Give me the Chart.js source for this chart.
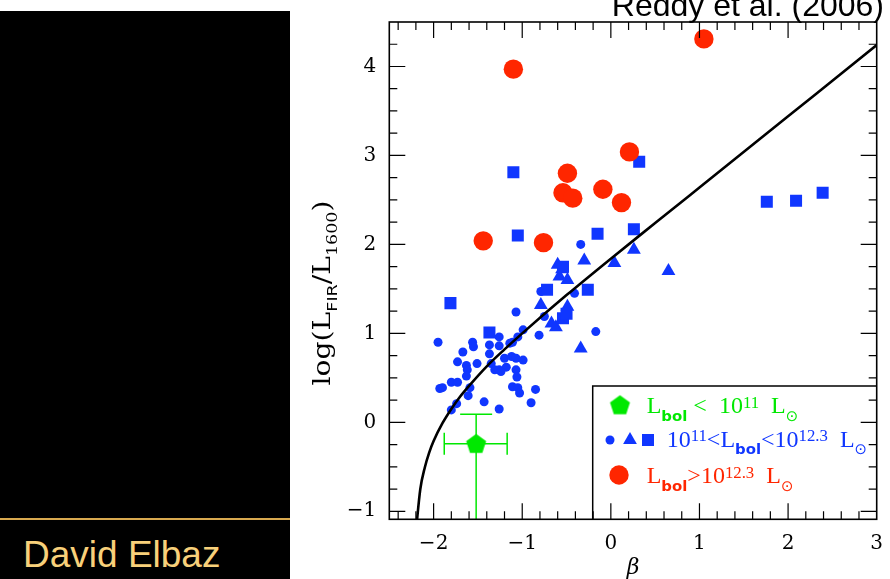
<!DOCTYPE html>
<html>
<head>
<meta charset="utf-8">
<script src="https://cdn.jsdelivr.net/npm/chart.js@4.4.1/dist/chart.umd.min.js"></script>
<style>
  html, body { margin: 0; padding: 0; background: #fff; width: 890px; height: 579px; overflow: hidden; position: relative; }
  #side { position: absolute; left: 0; top: 11px; width: 290px; height: 568px; background: #000; }
  #rule { position: absolute; left: 0; top: 518px; width: 290px; height: 2px; background: #d9a94f; }
  #name { position: absolute; left: 23px; top: 536px; font: 37px/1 "Liberation Sans", Arial, sans-serif; color: #f8d07a; white-space: nowrap; }
  #ref { position: absolute; right: 6px; top: -11px; font: 32px/1 "Liberation Sans", Arial, sans-serif; color: #000; white-space: nowrap; z-index: 2; }
  #wrap { position: absolute; left: 290px; top: 0; width: 600px; height: 579px; }
</style>
</head>
<body>
<div id="side"></div>
<div id="rule"></div>
<div id="name">David Elbaz</div>
<div id="ref">Reddy et al. (2006)</div>
<div id="wrap"><canvas id="irx" width="600" height="579"></canvas></div>
<script>
// axis ticks
const xTicks = [-2, -1, 0, 1, 2, 3];
const yTicks = [-1, 0, 1, 2, 3, 4];

// 10^11 < Lbol < 10^12.3 : small circles
const circBeta = [-1.95, -1.56, -1.55, -1.67, -1.73, -1.63, -1.51, -1.62, -1.63, -1.93, -1.90, -1.80, -1.73, -1.59, -1.61, -1.74, -1.80, -1.43, -1.26, -1.37, -1.26, -1.37, -1.35, -1.31, -1.26, -1.26, -1.20, -1.14, -1.18, -1.24, -1.12, -1.07, -0.99, -1.07, -1.06, -1.11, -1.05, -1.03, -0.85, -0.90, -1.07, -0.99, -1.05, -1.11, -0.81, -0.34, -0.17, -0.41, -0.79, -0.75];
const circIrx  = [0.90, 0.90, 0.85, 0.79, 0.68, 0.64, 0.66, 0.59, 0.52, 0.38, 0.39, 0.45, 0.45, 0.39, 0.30, 0.21, 0.14, 0.23, 0.15, 0.87, 0.86, 0.77, 0.66, 0.59, 0.96, 0.59, 0.72, 0.89, 0.62, 0.57, 0.74, 0.72, 0.70, 0.59, 0.51, 0.40, 0.39, 0.33, 0.37, 0.22, 1.24, 1.04, 0.96, 0.90, 0.98, 2.00, 1.02, 1.45, 1.47, 1.19];

// triangles
const triBeta = [-0.30, 0.04, 0.26, -0.60, -0.49, -0.58, -0.79, -0.49, -0.62, -0.34, 0.65, -0.67, -0.55];
const triIrx  = [1.82, 1.79, 1.94, 1.77, 1.60, 1.64, 1.32, 1.30, 1.07, 0.83, 1.70, 1.11, 1.72];

// squares
const sqBeta = [-1.10, 0.32, -1.05, -0.15, 0.26, 1.76, 2.09, 2.39, -1.81, -1.37, -0.72, -0.26, -0.54, -0.54, -0.50];
const sqIrx  = [2.81, 2.93, 2.10, 2.12, 2.17, 2.48, 2.49, 2.58, 1.34, 1.01, 1.49, 1.49, 1.75, 1.17, 1.22];

// Lbol > 10^12.3
const redBeta = [1.05, -1.10, 0.21, -0.49, -0.54, -0.43, -0.09, 0.12, -1.44, -0.76];
const redIrx  = [4.31, 3.97, 3.04, 2.80, 2.58, 2.52, 2.62, 2.47, 2.04, 2.02];

// Lbol < 10^11 (stack) with error bars
const greenBeta = [-1.52];
const greenIrx  = [-0.24];
const greenBetaLo = [-1.88];
const greenBetaHi = [-1.17];
const greenIrxLo  = [-1.30];
const greenIrxHi  = [0.09];

// local starburst relation
const curveBeta = [-2.2, -2.15, -2.1, -2.05, -2.0, -1.9, -1.8, -1.7, -1.6, -1.4, -1.2, -1.0, -0.5, 0, 0.5, 1, 2, 3];
const curveIrx  = [-1.23, -0.75, -0.51, -0.34, -0.21, -0.01, 0.15, 0.29, 0.41, 0.63, 0.82, 1.00, 1.43, 1.84, 2.24, 2.64, 3.44, 4.24];

const BLUE = "#1036ff";
const RED = "#ff2600";
const GREEN = "#00e800";
const SERIF = '"Liberation Serif", "DejaVu Serif", serif';
const TSERIF = '"DejaVu Serif", serif';
const SANS = '"DejaVu Sans", sans-serif';

const pts = (xs, ys) => xs.map((v, i) => ({ x: v, y: ys[i] }));

function pentagon(r, color) {
  const s = Math.ceil(2 * r + 2);
  const c = document.createElement("canvas");
  c.width = s; c.height = s;
  const g = c.getContext("2d");
  g.fillStyle = color;
  g.beginPath();
  for (let k = 0; k < 5; k++) {
    const t = -Math.PI / 2 + k * 2 * Math.PI / 5;
    g.lineTo(s / 2 + r * Math.cos(t), s / 2 + r * Math.sin(t) + 0.8);
  }
  g.closePath();
  g.fill();
  return c;
}
const penta = pentagon(10.5, GREEN);

// text with sub/superscripts, PGPLOT-like placement
function drawRich(ctx, parts, x, y, size, font, measureOnly) {
  let cx = x;
  for (const p of parts) {
    const s = p.s === "sub" ? size * 0.62 : p.s === "sup" ? size * 0.7 : size;
    ctx.font = (p.b ? "bold " : "") + s.toFixed(1) + "px " + (p.f || font);
    const dy = p.s === "sub" ? size * 0.3 : p.s === "sup" ? -size * 0.22 : 0;
    if (!measureOnly) ctx.fillText(p.t, cx, y + dy);
    cx += ctx.measureText(p.t).width;
  }
  return cx - x;
}

// inward ticks on all four sides + frame
const framePlugin = {
  id: "frame",
  afterDatasetsDraw(chart) {
    const { ctx, chartArea: a, scales: { x, y } } = chart;
    ctx.save();
    ctx.strokeStyle = "#000";
    ctx.lineWidth = 1.2;
    ctx.beginPath();
    for (let i = -12; i <= 14; i++) {
      const px = x.getPixelForValue(i / 5);
      const len = (i % 5 === 0) ? 16 : 8;
      ctx.moveTo(px, a.bottom); ctx.lineTo(px, a.bottom - len);
      ctx.moveTo(px, a.top); ctx.lineTo(px, a.top + len);
    }
    for (let j = -4; j <= 17; j++) {
      const py = y.getPixelForValue(j / 4);
      const len = (j % 4 === 0) ? 16 : 8;
      ctx.moveTo(a.left, py); ctx.lineTo(a.left + len, py);
      ctx.moveTo(a.right, py); ctx.lineTo(a.right - len, py);
    }
    ctx.stroke();
    ctx.lineWidth = 1.6;
    ctx.strokeRect(a.left, a.top, a.right - a.left, a.bottom - a.top);
    ctx.restore();
  }
};

// error bars of the green point
const errorPlugin = {
  id: "errs",
  beforeDatasetsDraw(chart) {
    const { ctx, chartArea: a, scales: { x, y } } = chart;
    ctx.save();
    ctx.beginPath();
    ctx.rect(a.left, a.top, a.right - a.left, a.bottom - a.top);
    ctx.clip();
    ctx.strokeStyle = GREEN;
    ctx.lineWidth = 1.5;
    ctx.beginPath();
    greenBeta.forEach((b, i) => {
      const px = x.getPixelForValue(b), py = y.getPixelForValue(greenIrx[i]);
      const x0 = x.getPixelForValue(greenBetaLo[i]), x1 = x.getPixelForValue(greenBetaHi[i]);
      const y0 = y.getPixelForValue(greenIrxLo[i]), y1 = y.getPixelForValue(greenIrxHi[i]);
      ctx.moveTo(x0, py); ctx.lineTo(x1, py);
      ctx.moveTo(x0, py - 11); ctx.lineTo(x0, py + 11);
      ctx.moveTo(x1, py - 11); ctx.lineTo(x1, py + 11);
      ctx.moveTo(px, y0); ctx.lineTo(px, y1);
      ctx.moveTo(px - 16, y1); ctx.lineTo(px + 16, y1);
    });
    ctx.stroke();
    ctx.restore();
  }
};

// axis titles and the legend box
const annotPlugin = {
  id: "annot",
  afterDraw(chart) {
    const { ctx, chartArea: a } = chart;
    ctx.save();
    ctx.fillStyle = "#000";
    ctx.textBaseline = "alphabetic";

    // y title
    const yParts = [{ t: "log(L" }, { t: "FIR", s: "sub", f: SANS }, { t: "/L" }, { t: "1600", s: "sub" }, { t: ")" }];
    const tw = drawRich(ctx, yParts, 0, 0, 24, TSERIF, true);
    ctx.save();
    ctx.translate(40, 293);
    ctx.rotate(-Math.PI / 2);
    ctx.scale(185 / tw, 1);
    drawRich(ctx, yParts, -tw / 2, 0, 24, TSERIF);
    ctx.restore();

    // x title
    ctx.font = "italic 22px " + TSERIF;
    ctx.textAlign = "center";
    ctx.fillText("β", (a.left + a.right) / 2, 574);
    ctx.textAlign = "left";

    // legend box
    const lx = 302.7, ly = 386;
    ctx.strokeStyle = "#000";
    ctx.lineWidth = 1.5;
    ctx.beginPath();
    ctx.moveTo(lx, a.bottom); ctx.lineTo(lx, ly); ctx.lineTo(a.right, ly);
    ctx.stroke();

    // row 1
    ctx.drawImage(penta, 330 - penta.width / 2, 405 - penta.height / 2);
    ctx.fillStyle = GREEN;
    drawRich(ctx, [{ t: "L" }, { t: "bol", s: "sub", b: 1, f: SANS }, { t: " <  10" }, { t: "11", s: "sup" }, { t: "  L" }, { t: "⊙", s: "sub", f: SANS }], 356.7, 413.3, 24, SERIF);

    // row 2
    ctx.fillStyle = BLUE;
    ctx.beginPath(); ctx.arc(320, 440, 4.5, 0, Math.PI * 2); ctx.fill();
    ctx.beginPath();
    ctx.moveTo(340, 432); ctx.lineTo(346.9, 444); ctx.lineTo(333.1, 444); ctx.closePath(); ctx.fill();
    ctx.fillRect(352, 434, 12, 12);
    drawRich(ctx, [{ t: "10" }, { t: "11", s: "sup" }, { t: "<L" }, { t: "bol", s: "sub", b: 1, f: SANS }, { t: "<10" }, { t: "12.3", s: "sup" }, { t: "  L" }, { t: "⊙", s: "sub", f: SANS }], 376.7, 446.7, 24, SERIF);

    // row 3
    ctx.fillStyle = RED;
    ctx.beginPath(); ctx.arc(329, 475, 9.7, 0, Math.PI * 2); ctx.fill();
    drawRich(ctx, [{ t: "L" }, { t: "bol", s: "sub", b: 1, f: SANS }, { t: ">10" }, { t: "12.3", s: "sup" }, { t: "  L" }, { t: "⊙", s: "sub", f: SANS }], 356.7, 483.3, 24, SERIF);
    ctx.restore();
  }
};

const fmt = v => String(v).replace("-", "\u2212");

const ctx = document.getElementById("irx").getContext("2d");
window.irxChart = new Chart(ctx, {
  type: "scatter",
  data: {
    datasets: [
      {
        type: "line",
        label: "starbursts",
        data: pts(curveBeta, curveIrx),
        borderColor: "#000",
        borderWidth: 2.6,
        pointRadius: 0,
        cubicInterpolationMode: "monotone",
        fill: false,
        order: 0
      },
      {
        label: "Lbol > 10^12.3",
        data: pts(redBeta, redIrx),
        pointStyle: "circle",
        pointRadius: 9.7,
        backgroundColor: RED,
        borderWidth: 0,
        order: 1
      },
      {
        label: "Lbol < 10^11",
        data: pts(greenBeta, greenIrx),
        pointStyle: penta,
        backgroundColor: GREEN,
        borderWidth: 0,
        order: 2
      },
      {
        label: "squares",
        data: pts(sqBeta, sqIrx),
        pointStyle: "rect",
        pointRadius: 8.5,
        backgroundColor: BLUE,
        borderWidth: 0,
        order: 3
      },
      {
        label: "triangles",
        data: pts(triBeta, triIrx),
        pointStyle: "triangle",
        pointRadius: 8,
        backgroundColor: BLUE,
        borderWidth: 0,
        order: 4
      },
      {
        label: "circles",
        data: pts(circBeta, circIrx),
        pointStyle: "circle",
        pointRadius: 4.5,
        backgroundColor: BLUE,
        borderWidth: 0,
        order: 5
      }
    ]
  },
  options: {
    responsive: false,
    animation: false,
    devicePixelRatio: 1,
    layout: { padding: { top: 22, right: 13.3, left: 0, bottom: 0 } },
    plugins: { legend: { display: false }, tooltip: { enabled: false } },
    scales: {
      x: {
        type: "linear",
        min: -2.5,
        max: 3,
        afterBuildTicks: s => { s.ticks = xTicks.map(v => ({ value: v })); },
        afterFit: s => { s.height = 59.7; },
        grid: { display: false },
        border: { display: false },
        ticks: { padding: 4, color: "#000", font: { family: TSERIF, size: 20 }, callback: fmt, maxRotation: 0 }
      },
      y: {
        type: "linear",
        min: -1.09,
        max: 4.5,
        afterBuildTicks: s => { s.ticks = yTicks.map(v => ({ value: v })); },
        afterFit: s => { s.width = 99.3; },
        grid: { display: false },
        border: { display: false },
        ticks: { padding: 5, color: "#000", font: { family: TSERIF, size: 20 }, callback: fmt }
      }
    }
  },
  plugins: [errorPlugin, framePlugin, annotPlugin]
});
</script>
</body>
</html>
